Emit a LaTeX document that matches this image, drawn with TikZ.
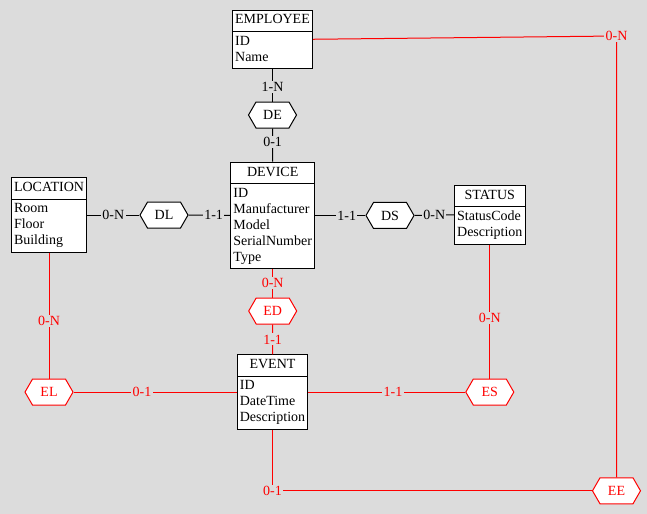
\documentclass[tikz,border=0pt]{standalone}
\usepackage{fontspec}
\setmainfont{Liberation Serif}
\usetikzlibrary{shapes.multipart,shapes.symbols}
\definecolor{bggray}{RGB}{220,220,220}
\begin{document}
\begin{tikzpicture}[x=0.75pt, y=-0.75pt, line width=0.75pt,
    font=\fontsize{10.5}{12}\selectfont,
    entity/.style={rectangle split, rectangle split parts=2, draw, fill=white,
      align=left, rectangle split part align={center,left},
      inner xsep=2pt, inner ysep=1.6pt, anchor=north},
    rel/.style={signal, signal to=east and west, signal pointer angle=120,
      draw, fill=white, minimum width=36pt, minimum height=19.5pt, inner sep=0pt},
    weakrel/.style={rel, draw=red, text=red},
    card/.style={fill=bggray, inner sep=1pt}]
  \fill[bggray] (0,0) rectangle (647,514);
  % entities
  \node[entity] (emp) at (272.5,9.5) {\strut EMPLOYEE\nodepart{two}\strut ID\\Name\strut};
  \node[entity] (dev) at (272.7,161.7)
    {\strut DEVICE\nodepart{two}\strut ID\\Manufacturer\\Model\\SerialNumber\\Type\strut};
  \node[entity] (loc) at (49,177.3)
    {\strut LOCATION\nodepart{two}\strut Room\\Floor\\Building\strut};
  \node[entity] (status) at (489.8,185)
    {\strut STATUS\nodepart{two}\strut StatusCode\\Description\strut};
  \node[entity] (event) at (272.5,354.3)
    {\strut EVENT\nodepart{two}\strut ID\\DateTime\\Description\strut};
  % relations
  \node[rel] (de) at (emp.south |- 0,115) {DE};
  \node[rel] (dl) at (164,0 |- loc.east) {DL};
  \node[rel] (ds) at (390,0 |- dev.east) {DS};
  \node[weakrel] (ed) at (dev.south |- 0,311) {ED};
  \node[weakrel] (el) at (loc.south |- event.west) {EL};
  \node[weakrel] (es) at (status.south |- event.west) {ES};
  \node[weakrel] (ee) at (616.5,490.8) {EE};
  \coordinate (ecorner) at (event.south |- ee.west);
  \coordinate (eecorner) at (ee.north |- 0,36);
  % black links
  \draw (emp.south) -- node[card, pos=0.56]{1-N} (de.north);
  \draw (de.south) -- node[card, pos=0.4]{0-1} (dev.north);
  \draw (loc.east) -- node[card]{0-N} (dl.west);
  \draw (dl.east) -- node[card, pos=0.6]{1-1} (dev.west);
  \draw (dev.east) -- node[card, pos=0.63]{1-1} (ds.west);
  \draw (ds.east) -- node[card]{0-N} (status.west);
  % red links
  \draw[red] (dev.south) -- node[card]{0-N} (ed.north);
  \draw[red] (ed.south) -- node[card]{1-1} (event.north);
  \draw[red] (loc.south) -- node[card, pos=0.54]{0-N} (el.north);
  \draw[red] (el.east) -- node[card, pos=0.42]{0-1} (event.west);
  \draw[red] (event.east) -- node[card, pos=0.54]{1-1} (es.west);
  \draw[red] (status.south) -- node[card, pos=0.55]{0-N} (es.north);
  \draw[red] (event.south) -- (ecorner) node[card]{0-1} -- (ee.west);
  \draw[red] (emp.east) -- (eecorner) node[card]{0-N} -- (ee.north);
\end{tikzpicture}
\end{document}
